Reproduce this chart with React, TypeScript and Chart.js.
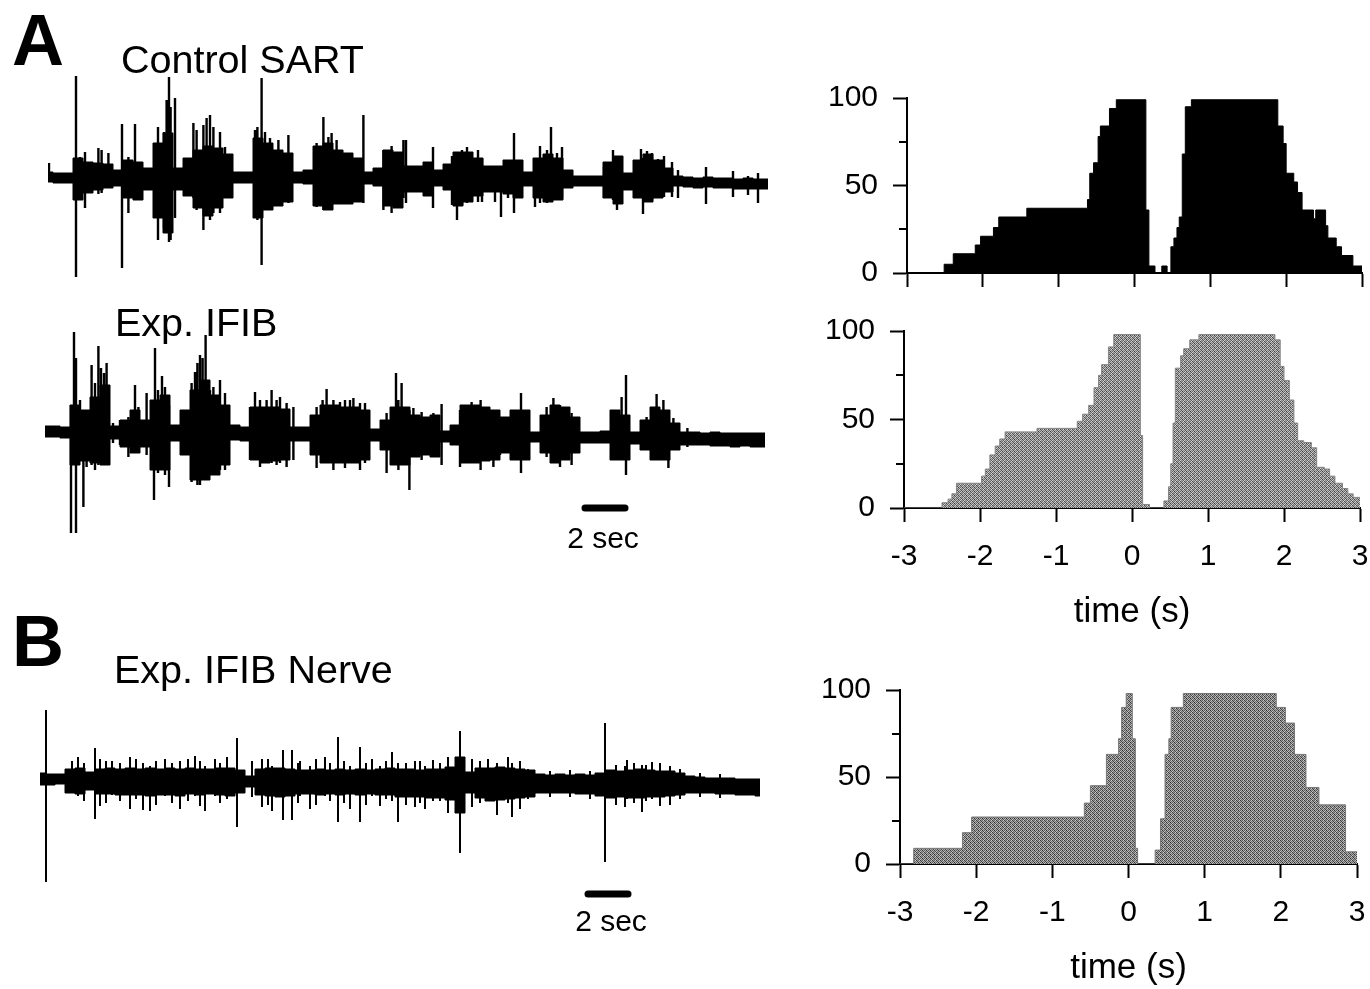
import React, { useEffect, useRef } from "react";
import { Chart, registerables } from "chart.js";

Chart.register(...registerables);

const FONT = '"Liberation Sans", Arial, Helvetica, sans-serif';
Chart.defaults.font.family = FONT;
Chart.defaults.color = "#000";

// ---------------- Raw traces: core envelope of the signal, one sample every 0.5 s (up = +) ----------------
const TRACE_BIN_SEC = 0.5;
const TRACE_SPAN_SEC = 36;

const sartHi = [6,5,5,20,16,15,14,8,18,16, 10,35,45,10,20,28,32,30,24,6, 6,40,35,28,25,6,8,32,35,28, 25,20,6,10,28,26,12,12,16,8, 14,26,26,20,12,12,18,18,6,20, 24,20,8,2,2,2,16,22,5,18, 24,18,10,2,1,0,1,0,0,-1, 0,-1,-1];
const sartLo = [-4,-5,-5,-22,-15,-12,-10,-8,-20,-22, -12,-40,-55,-12,-18,-30,-38,-30,-20,-5, -5,-40,-32,-28,-24,-5,-6,-28,-32,-26, -26,-24,-6,-8,-28,-30,-14,-14,-18,-8, -12,-28,-24,-18,-14,-14,-16,-20,-8,-20, -24,-22,-10,-8,-8,-8,-20,-26,-12,-20, -24,-20,-14,-8,-9,-10,-9,-10,-10,-11, -11,-11,-11];
// individual spikes: time (s), top, bottom
const sartSpikeT = [0.05,1.4,1.6,1.85,2.52,2.68,3.02,3.7,4.02,4.35, 5.5,5.8,5.93,6.05,6.13,6.35,7.27,7.43,7.77,7.93, 8.1,8.27,8.6,8.85,10.35,10.47,10.68,10.85,11.1,11.52, 12.02,13.43,13.77,14.02,14.18,14.43,15.0,15.77,16.77,17.18, 17.77,17.9,19.25,20.2,20.45,20.7,20.95,21.5,21.7,22.35, 22.65,23.0,23.3,24.35,24.6,24.95,25.15,25.45,25.7,27.8, 28.25,28.45,29.65,29.75,29.95,30.2,30.5,30.8,31.2,31.5, 32.9,34.25,35.0,35.5];
const sartSpikeHi = [15,102,21,26,30,28,25,54,21,54, 51,46,78,101,71,80,55,48,53,60, 63,51,46,31,48,51,100,46,40,38, 43,35,61,41,45,38,25,63,28,32, 38,38,31,22,26,28,31,28,20,11, 12,18,45,16,32,28,51,25,31,11, 28,20,29,20,27,25,19,22,16,8, 11,7,2,5];
const sartSpikeLo = [-3,-99,-22,-30,-16,-15,-10,-90,-35,-18, -62,-50,-45,-64,-62,-40,-20,-32,-52,-30, -42,-35,-35,-20,-35,-42,-87,-30,-29,-25, -25,-29,-32,-30,-28,-25,-26,-25,-32,-35, -20,-25,-30,-27,-42,-27,-25,-24,-24,-24, -39,-20,-35,-29,-25,-25,-22,-22,-20,-20, -22,-32,-20,-36,-22,-22,-19,-19,-19,-20, -26,-19,-17,-25];

const ifibHi = [9,9,8,30,25,38,50,9,15,25, 15,35,40,10,25,45,55,40,30,10, 8,28,28,28,26,8,8,20,30,30, 28,28,25,6,15,28,28,20,18,20, 4,10,30,30,28,25,18,25,25,3, 20,30,28,18,3,3,4,25,20,3, 15,28,25,12,3,3,2,3,2,2, 2,2,2];
const ifibLo = [-2,-2,-3,-30,-26,-28,-30,-4,-12,-18, -12,-35,-35,-6,-20,-45,-45,-40,-30,-5, -6,-25,-28,-26,-25,-6,-6,-20,-28,-28, -28,-28,-25,-6,-15,-30,-30,-22,-20,-22, -7,-10,-28,-28,-26,-25,-18,-25,-25,-7, -18,-28,-25,-18,-8,-8,-8,-25,-25,-9, -15,-25,-25,-15,-10,-10,-10,-11,-11,-12, -11,-12,-12];
const ifibSpikeT = [1.3,1.45,1.55,1.75,1.92,2.08,2.33,2.5,2.67,2.8, 2.95,3.08,3.4,3.75,4.17,4.33,4.5,4.67,5.08,5.45, 5.5,5.65,5.85,6.0,6.2,7.08,7.33,7.5,7.62,7.75, 7.88,8.03,8.25,8.42,8.75,9.0,10.25,10.5,10.75,11.08, 11.33,11.58,11.75,12.08,12.42,13.58,13.88,14.08,14.42,14.75, 15.0,15.25,15.42,15.75,16.0,17.08,17.55,17.67,17.83,18.22, 18.42,18.83,19.42,19.83,20.75,21.08,21.33,21.78,22.08,22.42, 22.75,23.08,23.8,25.08,25.42,25.75,26.08,26.33,28.33,28.83, 29.05,30.08,30.58,30.92,31.17,31.42,32.12];
const ifibSpikeHi = [30,103,77,35,25,23,70,52,89,67, 62,72,12,15,18,25,50,28,42,30, 87,45,59,48,30,25,52,63,72,80, 77,100,45,48,55,42,28,43,35,35, 45,35,38,32,28,28,35,46,35,33, 35,35,37,32,32,22,62,35,52,25, 27,23,22,31,25,28,33,35,28,25, 18,15,42,28,37,30,28,22,15,38, 60,18,41,35,20,17,7];
const ifibSpikeLo = [-98,-30,-98,-20,-72,-32,-30,-35,-30,-28, -28,-22,-8,-10,-22,-15,-18,-17,-20,-65, -35,-38,-35,-40,-52,-20,-47,-40,-50,-50, -45,-45,-38,-35,-35,-35,-25,-25,-32,-28, -28,-30,-28,-32,-25,-33,-28,-28,-35,-28, -33,-28,-28,-35,-28,-38,-30,-35,-30,-55, -22,-25,-20,-30,-32,-25,-28,-35,-25,-32, -20,-18,-38,-22,-25,-32,-25,-30,-12,-25, -40,-15,-25,-25,-33,-15,-12];

const nerveHi = [8,7,7,12,13,9,12,13,12,13, 12,13,12,13,12,13,12,12,13,13, 11,5,12,13,13,12,11,11,12,11, 12,11,12,11,12,13,12,12,11,12, 12,14,24,9,13,13,14,13,12,11, 7,6,7,6,7,6,8,11,10,11, 12,11,10,10,8,5,4,3,3,3, 2,2,2];
const nerveLo = [-4,-4,-3,-12,-13,-9,-13,-13,-14,-14, -14,-15,-14,-14,-15,-13,-14,-13,-14,-15, -12,-6,-14,-15,-16,-15,-13,-13,-14,-13, -14,-13,-14,-13,-14,-14,-16,-16,-16,-17, -17,-19,-32,-12,-17,-20,-19,-18,-17,-16, -12,-12,-12,-12,-13,-13,-15,-17,-16,-17, -17,-16,-16,-15,-14,-12,-12,-12,-13,-13, -14,-14,-15];
const nerveSpikeT = [0.3,1.6,1.9,2.2,2.75,3.0,3.3,3.6,4.0,4.5, 4.8,5.15,5.5,5.8,6.25,6.6,7.0,7.4,7.75,8.0, 8.25,8.75,9.0,9.35,9.85,10.6,11.1,11.4,11.6,12.15, 12.6,12.9,13.0,13.5,13.8,14.25,14.5,14.9,15.2,15.5, 16.0,16.3,16.6,17.0,17.3,17.6,17.9,18.3,18.75,19.0, 19.25,19.65,20.0,20.4,21.0,21.6,22.0,22.4,22.85,23.4, 23.6,24.0,24.4,25.5,26.5,27.5,28.25,28.8,29.25,29.35, 29.7,30.1,30.3,30.6,31.0,31.5,32.0,33.0,34.0];
const nerveSpikeHi = [71,20,24,18,33,22,20,20,18,24, 22,18,15,20,22,18,20,22,25,20, 15,22,18,24,43,20,22,22,15,31, 31,18,20,15,22,24,18,44,20,15, 34,18,22,15,20,29,18,18,20,20, 15,21,18,24,50,22,20,22,18,24, 18,20,12,10,11,10,58,16,15,21, 18,16,16,19,18,15,12,8,7];
const nerveSpikeLo = [-101,-12,-15,-20,-38,-25,-22,-14,-20,-28, -18,-29,-30,-24,-15,-22,-28,-20,-15,-25, -30,-15,-22,-18,-46,-16,-26,-24,-30,-39, -39,-22,-15,-28,-24,-15,-20,-41,-22,-28, -41,-24,-15,-25,-18,-20,-41,-24,-26,-22, -28,-20,-20,-32,-72,-26,-22,-20,-34,-22, -36,-28,-18,-16,-16,-18,-81,-24,-26,-18, -22,-31,-20,-18,-25,-24,-18,-16,-17];

// 2 s scale bars: start time (s) and level
const SCALE_BAR_SEC = 2;
const ifibBarStart = 27.0;
const ifibBarLevel = -73;
const nerveBarStart = 27.4;
const nerveBarLevel = -113;

// ---------------- Peri-event histograms (% of trials), bin edges in s ----------------
const HIST_MIN = -3;
const HIST_MAX = 3;
const HIST_MINOR_TICKS = [25, 75];

const sartEdges = [-3,-2.51,-2.39,-2.1,-2.03,-1.86,-1.79,-1.42,-0.62,-0.59,-0.54,-0.48,-0.45,-0.33,-0.24,0.15,0.19,0.27,0.36,0.43,0.48,0.52,0.56,0.59,0.63,0.67,0.75,1.89,1.96,2.0,2.1,2.15,2.21,2.36,2.39,2.52,2.55,2.66,2.73,2.88];
const sartPct = [0,5,11,16,21,26,32,37,42,57,63,78,84,94,99,36,4,0,4,0,15,20,26,32,68,95,99,84,74,57,52,46,36,31,36,27,20,15,10,4];

const ifibEdges = [-3,-2.5,-2.42,-2.37,-2.31,-1.98,-1.93,-1.87,-1.8,-1.74,-1.67,-1.25,-0.72,-0.65,-0.57,-0.5,-0.44,-0.4,-0.31,-0.24,0.11,0.14,0.23,0.42,0.48,0.51,0.54,0.57,0.64,0.68,0.76,0.88,1.88,1.95,2.0,2.07,2.13,2.18,2.26,2.36,2.43,2.53,2.6,2.67,2.77,2.84,2.91];
const ifibPct = [0,3,5,8,14,18,22,30,35,39,43,45,49,53,58,68,75,81,91,98,41,2,0,4,12,25,48,79,86,90,95,98,95,80,72,61,48,38,37,34,23,22,18,14,11,8,6];

const nerveEdges = [-3,-2.82,-2.18,-2.06,-0.58,-0.5,-0.29,-0.13,-0.09,-0.03,0.05,0.09,0.12,0.35,0.42,0.48,0.53,0.56,0.72,1.94,2.06,2.18,2.33,2.5,2.85];
const nervePct = [0,9,18,27,35,45,63,72,90,98,72,9,0,8,26,63,72,90,98,90,81,63,44,34,7];

// stipple tile (grey levels) used to imitate the half-tone fill of the grey histograms
const STIPPLE = [
  [80, 200, 120, 220],
  [190, 110, 230, 140],
  [130, 235, 90, 180],
  [210, 150, 200, 100],
];

function stipplePattern(shift: number): CanvasPattern | string {
  const c = document.createElement("canvas");
  c.width = 4;
  c.height = 4;
  const g = c.getContext("2d");
  if (!g) return "#999";
  STIPPLE.forEach((row, r) =>
    row.forEach((v, k) => {
      const l = Math.max(0, Math.min(255, v + shift));
      g.fillStyle = `rgb(${l},${l},${l})`;
      g.fillRect(k, r, 1, 1);
    })
  );
  return g.createPattern(c, "repeat") || "#999";
}

// ---------------- chart builders ----------------
function envelopePoints(values: number[]) {
  return values.map((v, i) => ({ x: i * TRACE_BIN_SEC, y: v }));
}

function spikePoints(ts: number[], his: number[], los: number[]) {
  const pts: { x: number; y: number | null }[] = [];
  ts.forEach((t, i) => {
    pts.push({ x: t, y: los[i] }, { x: t, y: his[i] }, { x: t, y: null });
  });
  return pts;
}

function traceChart(
  canvas: HTMLCanvasElement,
  hi: number[],
  lo: number[],
  st: number[],
  sh: number[],
  sl: number[],
  yMin: number,
  yMax: number,
  spikeWidth: number,
  bar?: { start: number; level: number }
) {
  const datasets: any[] = [
    {
      data: envelopePoints(hi),
      borderColor: "#000",
      backgroundColor: "#000",
      borderWidth: 1,
      pointRadius: 0,
      fill: "+1",
      stepped: "middle",
    },
    {
      data: envelopePoints(lo),
      borderColor: "#000",
      borderWidth: 1,
      pointRadius: 0,
      fill: false,
      stepped: "middle",
    },
    {
      data: spikePoints(st, sh, sl),
      borderColor: "#000",
      borderWidth: spikeWidth,
      pointRadius: 0,
      fill: false,
      spanGaps: false,
    },
  ];
  if (bar) {
    datasets.push({
      data: [
        { x: bar.start, y: bar.level },
        { x: bar.start + SCALE_BAR_SEC, y: bar.level },
      ],
      borderColor: "#000",
      borderWidth: 7,
      borderCapStyle: "round",
      pointRadius: 0,
      fill: false,
    });
  }
  return new Chart(canvas, {
    type: "line",
    data: { datasets },
    options: {
      responsive: false,
      animation: false,
      events: [],
      layout: { padding: 0 },
      plugins: { legend: { display: false }, tooltip: { enabled: false } },
      scales: {
        x: { type: "linear", min: 0, max: TRACE_SPAN_SEC, display: false },
        y: { min: yMin, max: yMax, display: false },
      },
    },
  });
}

const minorTickPlugin = {
  id: "minorTicks",
  afterDraw(chart: any, _args: any, opts: any) {
    const y = chart.scales.y;
    const ctx = chart.ctx;
    const x0 = chart.chartArea.left;
    ctx.save();
    ctx.strokeStyle = "#000";
    ctx.lineWidth = 2;
    (opts.values || []).forEach((v: number) => {
      const py = Math.round(y.getPixelForValue(v));
      ctx.beginPath();
      ctx.moveTo(x0 - 8, py);
      ctx.lineTo(x0, py);
      ctx.stroke();
    });
    ctx.restore();
  },
};

function histChart(
  canvas: HTMLCanvasElement,
  edges: number[],
  values: number[],
  fillStyle: any,
  lineColor: string,
  labeled: boolean
) {
  const data = edges.map((e, i) => ({ x: e, y: values[i] }));
  data.push({ x: HIST_MAX, y: values[values.length - 1] });
  const grid = {
    drawOnChartArea: false,
    drawTicks: true,
    tickLength: 14,
    tickWidth: 2,
    tickColor: "#000",
  };
  const border = { display: true, color: "#000", width: 2 };
  return new Chart(canvas, {
    type: "line",
    data: {
      datasets: [
        {
          data,
          stepped: true,
          fill: "origin",
          backgroundColor: fillStyle,
          borderColor: lineColor,
          borderWidth: 1,
          pointRadius: 0,
        },
      ],
    },
    options: {
      responsive: false,
      animation: false,
      events: [],
      layout: { padding: { top: 40, right: 30, left: 0, bottom: 0 } },
      plugins: {
        legend: { display: false },
        tooltip: { enabled: false },
        minorTicks: { values: HIST_MINOR_TICKS },
      } as any,
      scales: {
        x: {
          type: "linear",
          min: HIST_MIN,
          max: HIST_MAX,
          afterFit: (s: any) => {
            s.height = labeled ? 127 : 40;
          },
          ticks: {
            stepSize: 1,
            display: labeled,
            font: { size: 30 },
            color: "#000",
            padding: 17,
            maxRotation: 0,
            autoSkip: false,
          },
          grid,
          border,
          title: {
            display: labeled,
            text: "time (s)",
            font: { size: 35 },
            color: "#000",
            padding: { top: 0, bottom: 2 },
          },
        },
        y: {
          min: 0,
          max: 100,
          afterFit: (s: any) => {
            s.width = 90;
          },
          ticks: { stepSize: 50, font: { size: 30 }, color: "#000", padding: 15 },
          grid,
          border,
        },
      },
    },
    plugins: [minorTickPlugin],
  });
}

const textStyle = (left: number, top: number, size: number, bold = false): React.CSSProperties => ({
  position: "absolute",
  left,
  top,
  fontSize: size,
  lineHeight: 1,
  fontWeight: bold ? 700 : 400,
  fontFamily: FONT,
  whiteSpace: "nowrap",
  color: "#000",
});

const centered = (cx: number, top: number, size: number): React.CSSProperties => ({
  ...textStyle(cx - 100, top, size),
  width: 200,
  textAlign: "center",
});

export default function App() {
  const tr1 = useRef<HTMLCanvasElement>(null);
  const tr2 = useRef<HTMLCanvasElement>(null);
  const tr3 = useRef<HTMLCanvasElement>(null);
  const h1 = useRef<HTMLCanvasElement>(null);
  const h2 = useRef<HTMLCanvasElement>(null);
  const h3 = useRef<HTMLCanvasElement>(null);

  useEffect(() => {
    const charts = [
      traceChart(tr1.current!, sartHi, sartLo, sartSpikeT, sartSpikeHi, sartSpikeLo, -122, 118, 2.4),
      traceChart(tr2.current!, ifibHi, ifibLo, ifibSpikeT, ifibSpikeHi, ifibSpikeLo, -105, 115, 2.4, {
        start: ifibBarStart,
        level: ifibBarLevel,
      }),
      traceChart(tr3.current!, nerveHi, nerveLo, nerveSpikeT, nerveSpikeHi, nerveSpikeLo, -129, 91, 2.0, {
        start: nerveBarStart,
        level: nerveBarLevel,
      }),
      histChart(h1.current!, sartEdges, sartPct, "#000000", "#000000", false),
      histChart(h2.current!, ifibEdges, ifibPct, stipplePattern(-18), "#858585", true),
      histChart(h3.current!, nerveEdges, nervePct, stipplePattern(-32), "#777777", true),
    ];
    return () => charts.forEach((c) => c.destroy());
  }, []);

  const cv = (left: number, top: number): React.CSSProperties => ({
    position: "absolute",
    left,
    top,
    display: "block",
  });

  return (
    <div
      style={{
        position: "absolute",
        left: 0,
        top: 0,
        width: 1370,
        height: 989,
        overflow: "hidden",
        background: "#fff",
      }}
    >
      <canvas ref={tr1} width={720} height={240} style={cv(48, 60)} />
      <canvas ref={tr2} width={720} height={220} style={cv(45, 320)} />
      <canvas ref={tr3} width={720} height={220} style={cv(40, 690)} />
      <canvas ref={h1} width={575} height={255} style={cv(817, 58)} />
      <canvas ref={h2} width={576} height={344} style={cv(814, 291)} />
      <canvas ref={h3} width={577} height={341} style={cv(810, 650)} />

      <div style={textStyle(12, 4, 72, true)}>A</div>
      <div style={textStyle(121, 40, 39.5)}>Control SART</div>
      <div style={textStyle(115, 303, 39.5)}>Exp. IFIB</div>
      <div style={centered(603, 523, 30)}>2 sec</div>
      <div style={textStyle(12, 605, 72, true)}>B</div>
      <div style={textStyle(114, 650, 39.5)}>Exp. IFIB Nerve</div>
      <div style={centered(611, 906, 30)}>2 sec</div>
    </div>
  );
}
